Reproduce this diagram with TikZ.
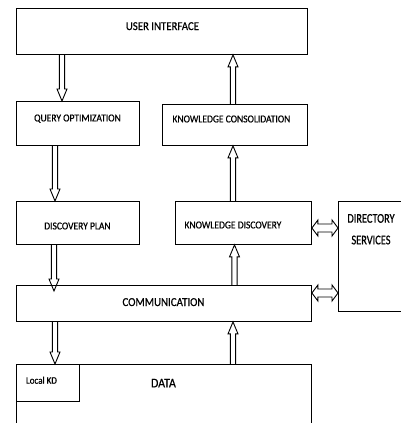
\documentclass[tikz,border=0pt]{standalone}
\usepackage{fontspec}
\usetikzlibrary{calc}
\newfontfamily\labfont[FakeStretch=0.9, FakeBold=0.6]{Carlito}
\newfontfamily\narfont[FakeStretch=0.78, FakeBold=0.6]{Carlito}

\tikzset{
  box/.style={draw, rectangle, anchor=north west, inner sep=0pt},
  lbl/.style={anchor=base, inner sep=0pt, font=\labfont\fontsize{#1}{#1}\selectfont},
  nlbl/.style={anchor=base, inner sep=0pt, font=\narfont\fontsize{#1}{#1}\selectfont},
  % outlined block arrow from start to target
  hollow/.style={to path={
    let \p1=(\tikztostart), \p2=(\tikztotarget),
        \n1={atan2(\y2-\y1,\x2-\x1)},
        \n2={veclen(\x2-\x1,\y2-\y1)-12pt}
    in ($(\p1)+({\n1+90}:2.6pt)$)
    -- ($(\p1)+(\n1:\n2)+({\n1+90}:2.6pt)$)
    -- ($(\p1)+(\n1:\n2)+({\n1+90}:5pt)$)
    -- (\p2)
    -- ($(\p1)+(\n1:\n2)+({\n1-90}:5pt)$)
    -- ($(\p1)+(\n1:\n2)+({\n1-90}:2.6pt)$)
    -- ($(\p1)+({\n1-90}:2.6pt)$)}},
  % outlined double-headed block arrow
  dhollow/.style={to path={
    let \p1=(\tikztostart), \p2=(\tikztotarget),
        \n1={atan2(\y2-\y1,\x2-\x1)},
        \n2={veclen(\x2-\x1,\y2-\y1)-6pt}
    in (\p1)
    -- ($(\p1)+(\n1:6pt)+({\n1+90}:8pt)$)
    -- ($(\p1)+(\n1:6pt)+({\n1+90}:4pt)$)
    -- ($(\p1)+(\n1:\n2)+({\n1+90}:4pt)$)
    -- ($(\p1)+(\n1:\n2)+({\n1+90}:8pt)$)
    -- (\p2)
    -- ($(\p1)+(\n1:\n2)+({\n1-90}:8pt)$)
    -- ($(\p1)+(\n1:\n2)+({\n1-90}:4pt)$)
    -- ($(\p1)+(\n1:6pt)+({\n1-90}:4pt)$)
    -- ($(\p1)+(\n1:6pt)+({\n1-90}:8pt)$)
    -- cycle}}
}

\begin{document}
\begin{tikzpicture}[x=1pt, y=-1pt, line width=0.9pt, line join=miter]
\useasboundingbox (0,0) rectangle (401,423);
\fill[white] (0,0) rectangle (401,423);
\clip (0,0) rectangle (401,423);

% boxes
\node[box, minimum width=291pt, minimum height=46pt] (ui)   at (16,8)   {};
\node[box, minimum width=123pt, minimum height=44pt] (qo)   at (16,101) {};
\node[box, minimum width=145pt, minimum height=41pt] (kc)   at (162,104) {};
\node[box, minimum width=123pt, minimum height=43pt] (dp)   at (16,201) {};
\node[box, minimum width=136pt, minimum height=43pt] (kd)   at (175,201) {};
\node[box, minimum width=80pt,  minimum height=110pt] (ds)  at (338,201) {};
\node[box, minimum width=295pt, minimum height=36pt] (comm) at (16,285) {};
\node[box, minimum width=295pt, minimum height=80pt] (data) at (16,364) {};
\node[box, minimum width=63pt,  minimum height=37pt] (lkd)  at (16,364) {};

% labels
\node[lbl=12]   (uit)   at ($(ui.north)+(0.5,22)$)    {USER INTERFACE};
\node[lbl=10.6] (qot)   at ($(qo.north)+(-0.5,20.4)$) {QUERY OPTIMIZATION};
\node[lbl=10.6] (kct)   at ($(kc.north)+(-3.5,18.4)$) {KNOWLEDGE CONSOLIDATION};
\node[lbl=10.6] (dpt)   at ($(dp.north)+(-0.5,28.4)$) {DISCOVERY PLAN};
\node[lbl=10.6] (kdt)   at ($(kd.north)+(-10.5,27.4)$) {KNOWLEDGE DISCOVERY};
\node[lbl=12.1] (commt) at ($(comm.north)+(-0.5,21)$) {COMMUNICATION};
\node[lbl=13.2] (datat) at ($(data.north)+(-0.5,23.3)$) {DATA};
\node[lbl=10]   (lkdt)  at ($(lkd.north)+(-6.5,19.7)$) {Local KD};
\node[nlbl=13.3] (dst1) at ($(ds.north west)+(33,21.7)$) {DIRECTORY};
\node[nlbl=13.3] (dst2) at ($(ds.north west)+(33,43.3)$) {SERVICES};

% connectors
\draw[hollow] ($(ui.south west)+(46,0)$)    to ($(qo.north west)+(46,0)$);
\draw[hollow] ($(kc.north west)+(71,0)$)    to ($(ui.south west)+(217,0)$);
\draw[hollow] ($(qo.south west)+(39,0)$)    to ($(dp.north west)+(39,0)$);
\draw[hollow] ($(kd.north west)+(58,0)$)    to ($(kc.south west)+(71,0)$);
\draw[hollow] ($(dp.south west)+(38,0)$)    to ($(comm.north west)+(38,6)$);
\draw[hollow] ($(comm.north west)+(218.5,0)$) to ($(kd.south west)+(59.5,0)$);
\draw[hollow] ($(comm.south west)+(39,0)$)  to ($(lkd.north west)+(39,0)$);
\draw[hollow] ($(data.north west)+(217,0)$) to ($(comm.south west)+(217,0)$);
\draw[dhollow] ($(kd.north east)+(0,27)$)   to ($(ds.north west)+(0,27)$);
\draw[dhollow] ($(comm.north east)+(0,8)$)  to ($(ds.north west)+(0,92)$);
\end{tikzpicture}
\end{document}
